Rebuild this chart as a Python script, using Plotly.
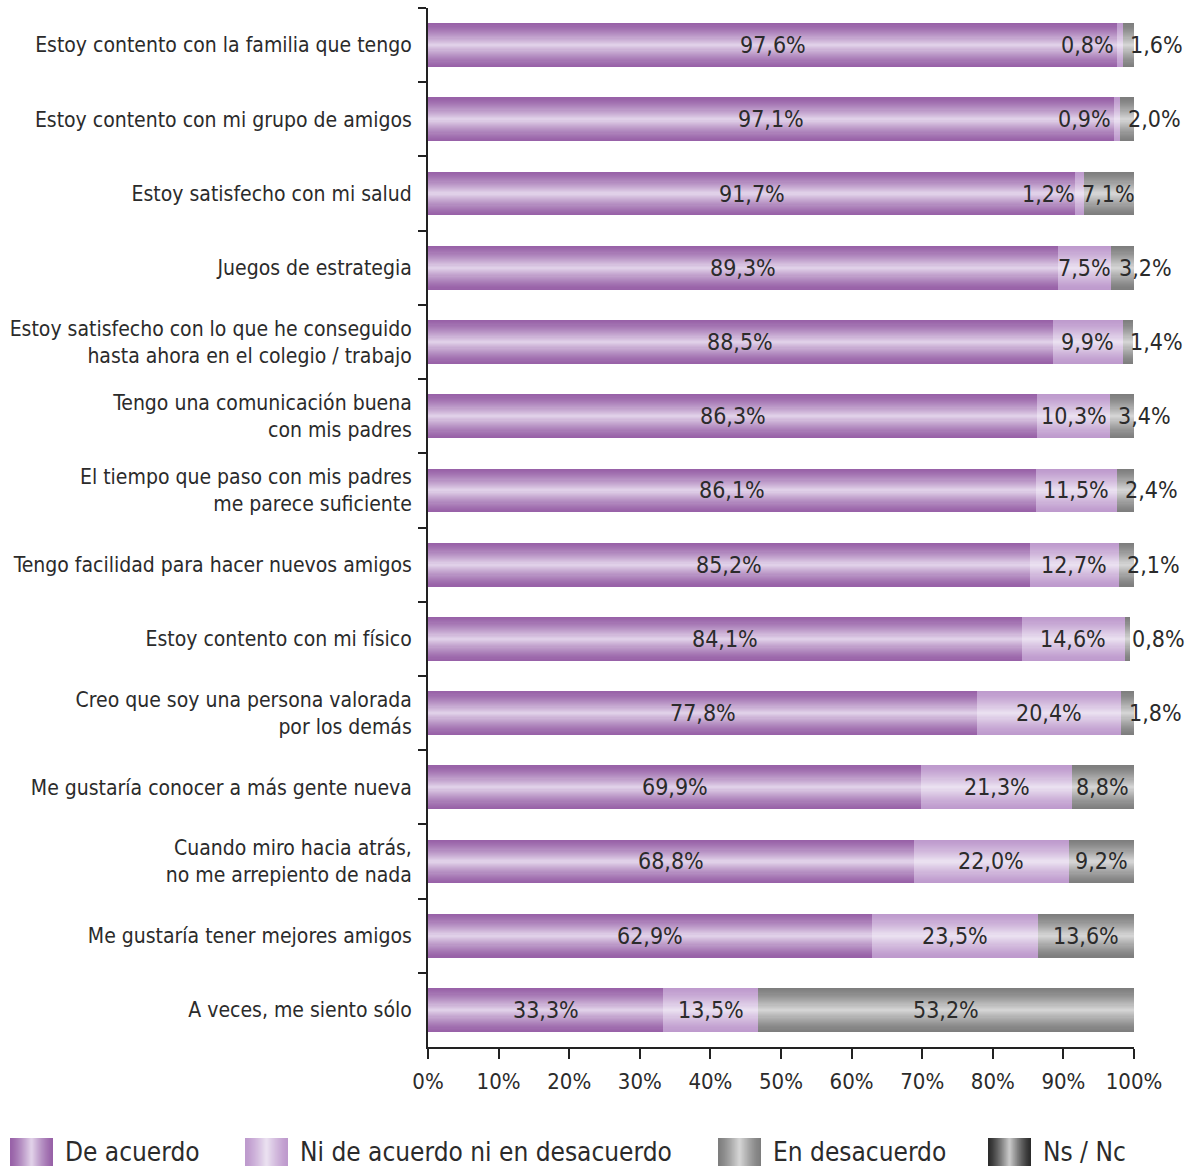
import plotly.graph_objects as go

# Survey items (top to bottom)
categories = [
    "Estoy contento con la familia que tengo",
    "Estoy contento con mi grupo de amigos",
    "Estoy satisfecho con mi salud",
    "Juegos de estrategia",
    "Estoy satisfecho con lo que he conseguido<br>hasta ahora en el colegio / trabajo",
    "Tengo una comunicación buena<br>con mis padres",
    "El tiempo que paso con mis padres<br>me parece suficiente",
    "Tengo facilidad para hacer nuevos amigos",
    "Estoy contento con mi físico",
    "Creo que soy una persona valorada<br>por los demás",
    "Me gustaría conocer a más gente nueva",
    "Cuando miro hacia atrás,<br>no me arrepiento de nada",
    "Me gustaría tener mejores amigos",
    "A veces, me siento sólo",
]

de_acuerdo = [97.6, 97.1, 91.7, 89.3, 88.5, 86.3, 86.1, 85.2, 84.1, 77.8, 69.9, 68.8, 62.9, 33.3]
ni_de_acuerdo = [0.8, 0.9, 1.2, 7.5, 9.9, 10.3, 11.5, 12.7, 14.6, 20.4, 21.3, 22.0, 23.5, 13.5]
en_desacuerdo = [1.6, 2.0, 7.1, 3.2, 1.4, 3.4, 2.4, 2.1, 0.8, 1.8, 8.8, 9.2, 13.6, 53.2]
ns_nc = [0.0] * 14

series_names = ["De acuerdo", "Ni de acuerdo ni en desacuerdo", "En desacuerdo", "Ns / Nc"]

FONT = "DejaVu Sans Condensed, Liberation Sans Narrow, sans-serif"
TEXT_COLOR = "#2b2b2b"

# (edge colour, centre colour) for the cylindrical shading of each series
shades = [
    ((152, 98, 168), (224, 208, 232)),
    ((190, 154, 205), (234, 224, 240)),
    ((126, 126, 126), (212, 212, 212)),
    ((45, 45, 45), (200, 200, 200)),
]

N_LAYERS = 20
BAR_WIDTH = 0.59


def mix(c0, c1, t):
    return "rgb({},{},{})".format(*[round(a + (b - a) * t) for a, b in zip(c0, c1)])


def fmt(v):
    return f"{v:.1f}".replace(".", ",") + "%"


values = [de_acuerdo, ni_de_acuerdo, en_desacuerdo, ns_nc]
bases = []
running = [0.0] * len(categories)
for vals in values:
    bases.append(list(running))
    running = [r + v for r, v in zip(running, vals)]

fig = go.Figure()

for vals, base, (edge, centre), name in zip(values, bases, shades, series_names):
    for k in range(N_LAYERS):
        t = (k / (N_LAYERS - 1)) ** 1.3
        fig.add_trace(go.Bar(
            y=categories, x=vals, base=base, orientation="h",
            width=BAR_WIDTH * (1 - k / N_LAYERS),
            marker=dict(color=mix(edge, centre, t), line=dict(width=0)),
            name=name, showlegend=False, hoverinfo="skip" if k else "x+name",
        ))

# Value labels
annotations = []
for i, cat in enumerate(categories):
    # De acuerdo: centred
    annotations.append(dict(x=bases[0][i] + de_acuerdo[i] / 2, y=cat, text=fmt(de_acuerdo[i]),
                            xanchor="center", showarrow=False))
    # Ni de acuerdo: centred, or pushed left when the segment is too narrow
    v = ni_de_acuerdo[i]
    if v >= 5:
        annotations.append(dict(x=bases[1][i] + v / 2, y=cat, text=fmt(v),
                                xanchor="center", showarrow=False))
    else:
        annotations.append(dict(x=bases[1][i] + v - 1.0, y=cat, text=fmt(v),
                                xanchor="right", showarrow=False))
    # En desacuerdo: centred, or starting just after the segment start when narrow
    v = en_desacuerdo[i]
    if v >= 5:
        annotations.append(dict(x=bases[2][i] + v / 2, y=cat, text=fmt(v),
                                xanchor="center", showarrow=False))
    else:
        annotations.append(dict(x=bases[2][i] + 0.8, y=cat, text=fmt(v),
                                xanchor="left", showarrow=False))
for a in annotations:
    a.update(xref="x", yref="y", font=dict(family=FONT, size=23, color=TEXT_COLOR))

# Custom legend below the plot (shaded swatches)
W, H = 1186, 1167
L, R, T, B = 428, 52, 8, 120
pw, ph = W - L - R, H - T - B


def px_x(px):
    return (px - L) / pw


def px_y(py):
    return (H - B - py) / ph


shapes = []
legend_x = [10, 245, 718, 988]
sw_w, sw_top, sw_bot = 43, 1138, 1166
for (edge, centre), name, x0 in zip(shades, series_names, legend_x):
    for k in range(N_LAYERS):
        t = (k / (N_LAYERS - 1)) ** 1.3
        half = sw_w / 2 * (1 - k / N_LAYERS)
        cx = x0 + sw_w / 2
        shapes.append(dict(type="rect", xref="paper", yref="paper",
                           x0=px_x(cx - half), x1=px_x(cx + half),
                           y0=px_y(sw_bot), y1=px_y(sw_top),
                           fillcolor=mix(edge, centre, t), line=dict(width=0), layer="above"))
    annotations.append(dict(xref="paper", yref="paper", x=px_x(x0 + sw_w + 10), y=px_y(1152),
                            text=name, xanchor="left", yanchor="middle", showarrow=False,
                            font=dict(family=FONT, size=26, color=TEXT_COLOR)))

fig.update_layout(
    barmode="overlay",
    width=W, height=H,
    margin=dict(l=L, r=R, t=T, b=B, autoexpand=False),
    plot_bgcolor="white", paper_bgcolor="white",
    font=dict(family=FONT, size=21, color=TEXT_COLOR),
    showlegend=False,
    annotations=annotations,
    shapes=shapes,
    bargap=0,
)

fig.update_xaxes(
    range=[0, 100], dtick=10, ticksuffix="%",
    showgrid=False, zeroline=False, automargin=False,
    showline=True, linecolor="#222", linewidth=2,
    ticks="outside", ticklen=10, tickwidth=2, tickcolor="#222",
    ticklabelstandoff=4,
    tickfont=dict(family=FONT, size=22, color=TEXT_COLOR),
)
fig.update_yaxes(
    type="category", categoryorder="array", categoryarray=categories,
    autorange="reversed", automargin=False,
    showgrid=False, zeroline=False,
    showline=True, linecolor="#222", linewidth=2,
    ticks="outside", tickson="boundaries", ticklen=8, tickwidth=2, tickcolor="#222",
    ticklabelstandoff=10,
    tickfont=dict(family=FONT, size=21, color=TEXT_COLOR),
)

fig.write_html("out.html")
